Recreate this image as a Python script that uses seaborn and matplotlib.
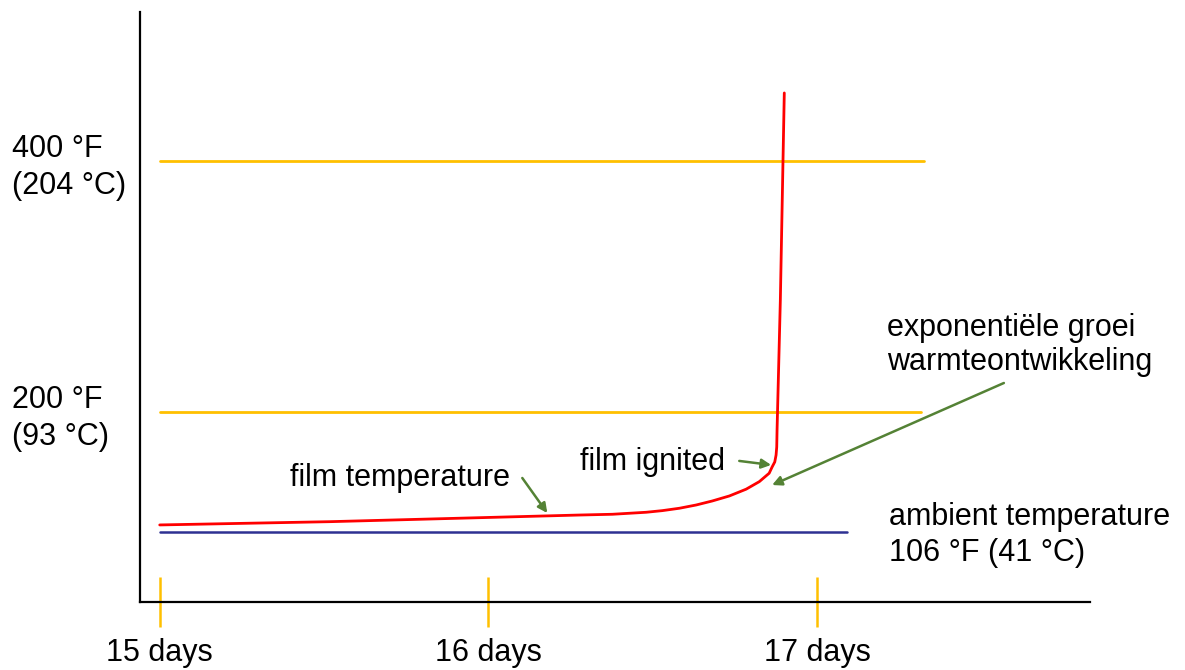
import matplotlib
matplotlib.use("Agg")
import matplotlib.pyplot as plt
import seaborn as sns
import pandas as pd

# ---- data ----
tick_days = [15, 16, 17]
tick_labels = ["15 days", "16 days", "17 days"]

level_temps = [200, 400]
level_labels = ["200 °F\n(93 °C)", "400 °F\n(204 °C)"]
level_end_days = [17.316, 17.325]

ambient_temp = 104
ambient_end_day = 17.09
line_start_day = 15.0

curve_days = [15.0, 15.517, 16.277, 16.377, 16.480, 16.529, 16.581, 16.632,
              16.681, 16.733, 16.784, 16.824, 16.854, 16.863, 16.871, 16.875,
              16.877, 16.878, 16.888, 16.900]
curve_temps = [110.0, 112.6, 117.9, 118.5, 120.1, 121.4, 123.3, 125.9,
               129.1, 133.1, 138.5, 144.5, 151.2, 156.2, 160.2, 165.7,
               172.1, 185.7, 289.2, 454.2]

# ---- style ----
sns.set_theme(style="white")
plt.rcParams["font.family"] = ["Liberation Sans", "DejaVu Sans"]

RED = "#FF0000"
ORANGE = "#FFC000"
BLUE = "#2E3192"
GREEN = "#548235"
FS = 22

fig = plt.figure(figsize=(11.85, 6.70), dpi=100)
ax = fig.add_axes([140 / 1185, 68 / 670, 950 / 1185, 590 / 670])

# threshold lines
for t, xe in zip(level_temps, level_end_days):
    df = pd.DataFrame({"d": [line_start_day, xe], "t": [t, t]})
    sns.lineplot(data=df, x="d", y="t", ax=ax, color=ORANGE, lw=2.0,
                 estimator=None, sort=False)

df_amb = pd.DataFrame({"d": [line_start_day, ambient_end_day],
                       "t": [ambient_temp, ambient_temp]})
sns.lineplot(data=df_amb, x="d", y="t", ax=ax, color=BLUE, lw=1.8,
             estimator=None, sort=False)

df_curve = pd.DataFrame({"d": curve_days, "t": curve_temps})
sns.lineplot(data=df_curve, x="d", y="t", ax=ax, color=RED, lw=2.0,
             estimator=None, sort=False)
for ln in ax.lines:
    ln.set_solid_joinstyle("round")

ax.set_xlim(14.94, 17.83)
ax.set_ylim(48.6, 518.7)
ax.set_xlabel("")
ax.set_ylabel("")

for s in ["top", "right"]:
    ax.spines[s].set_visible(False)
for s in ["left", "bottom"]:
    ax.spines[s].set_color("black")
    ax.spines[s].set_linewidth(1.6)

ax.set_xticks(tick_days, labels=tick_labels)
ax.tick_params(axis="x", direction="inout", length=36, width=1.8,
               color=ORANGE, pad=8, labelsize=FS, labelcolor="black",
               bottom=True)

ax.set_yticks(level_temps, labels=level_labels)
ax.tick_params(axis="y", length=0, pad=92, labelsize=FS, labelcolor="black")
for lab in ax.get_yticklabels():
    lab.set_horizontalalignment("left")
    lab.set_multialignment("left")
    lab.set_linespacing(1.3)

# annotations
ax.text(15.73, 147.4, "film temperature", fontsize=FS, ha="center",
        va="center", color="black")
ax.annotate("", xy=(16.179, 119.5), xytext=(16.103, 147.4),
            arrowprops=dict(arrowstyle="-|>", color=GREEN, lw=1.8,
                            mutation_scale=14, shrinkA=0, shrinkB=0))

ax.text(16.498, 160.2, "film ignited", fontsize=FS, ha="center",
        va="center", color="black")
ax.annotate("", xy=(16.860, 157.8), xytext=(16.763, 161.0),
            arrowprops=dict(arrowstyle="-|>", color=GREEN, lw=1.8,
                            mutation_scale=14, shrinkA=0, shrinkB=0))

ax.text(17.213, 253.4, "exponentiële groei\nwarmteontwikkeling",
        fontsize=FS, ha="left", va="center", color="black", linespacing=1.2)
ax.annotate("", xy=(16.863, 141.8), xytext=(17.568, 223.1),
            arrowprops=dict(arrowstyle="-|>", color=GREEN, lw=1.8,
                            mutation_scale=14, shrinkA=0, shrinkB=0))

ax.text(17.219, 102.0, "ambient temperature\n106 °F (41 °C)",
        fontsize=FS, ha="left", va="center", color="black", linespacing=1.25)

fig.savefig("out.png", dpi=100)
